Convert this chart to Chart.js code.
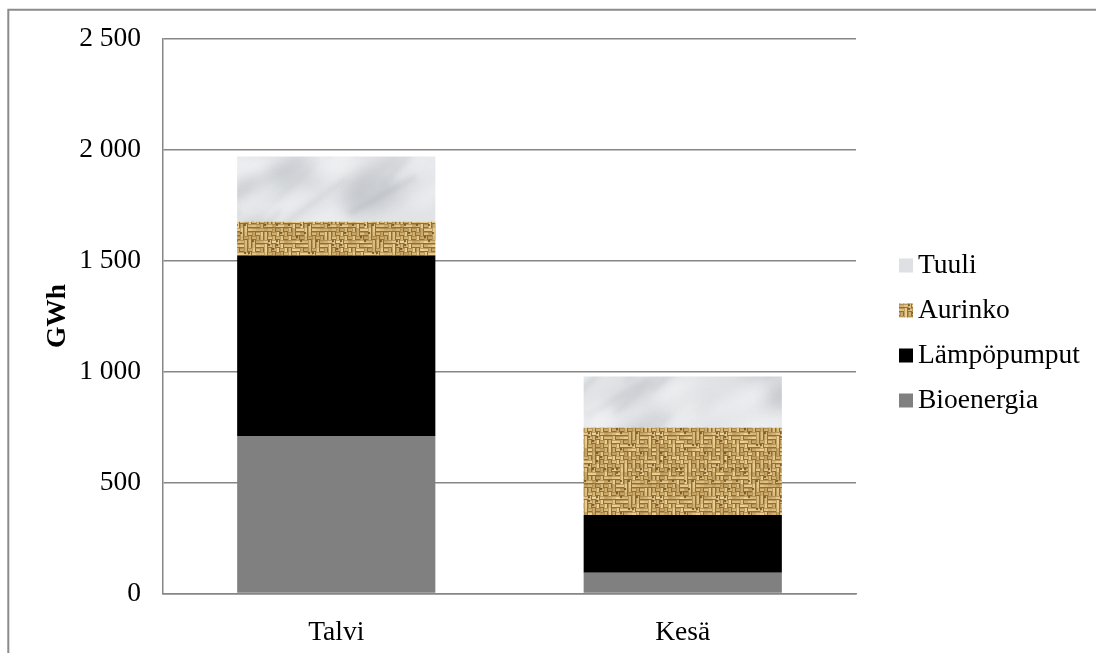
<!DOCTYPE html>
<html lang="fi">
<head>
<meta charset="utf-8">
<title>GWh – Talvi / Kesä</title>
<script src="https://cdn.jsdelivr.net/npm/chart.js@4/dist/chart.umd.min.js"></script>
<style>
  html, body { margin: 0; padding: 0; background: #ffffff; }
  canvas { display: block; }
</style>
</head>
<body>
<canvas id="chart" width="1096" height="653"></canvas>
<script>
const categories = ['Talvi', 'Kesä'];
const bioenergia = [710, 94];
const lampopumput = [812, 260];
const aurinko = [153, 393];
const tuuli = [293, 230];
const yTickLabels = ['0', '500', '1 000', '1 500', '2 000', '2 500'];

const FONT = '"Liberation Serif", "Times New Roman", serif';
const FONT_SIZE = 27.5;
const LINE = '#868686';

// small seeded generator, only used for texture grain
function seeded(seed) {
  let s = seed;
  return () => {
    s = (s * 16807) % 2147483647;
    return (s - 1) / 2147483646;
  };
}

function marblePattern() {
  const w = 260;
  const h = 130;
  const c = document.createElement('canvas');
  c.width = w;
  c.height = h;
  const g = c.getContext('2d');
  g.fillStyle = '#e1e3e6';
  g.fillRect(0, 0, w, h);
  const rnd = seeded(11);
  const wrap = (fn) => {
    for (const dx of [-w, 0, w]) {
      for (const dy of [-h, 0, h]) fn(dx, dy);
    }
  };
  // cloudy blobs
  g.filter = 'blur(7px)';
  for (let i = 0; i < 34; i++) {
    const x = rnd() * w;
    const y = rnd() * h;
    const rx = 15 + rnd() * 35;
    const ry = 5 + rnd() * 12;
    const light = rnd() > 0.4;
    const a = 0.25 + rnd() * 0.4;
    g.fillStyle = light ? `rgba(246,247,249,${a})` : `rgba(170,173,179,${a * 0.7})`;
    wrap((dx, dy) => {
      g.beginPath();
      g.ellipse(x + dx, y + dy, rx, ry, -0.5, 0, Math.PI * 2);
      g.fill();
    });
  }
  // veins
  g.filter = 'blur(2.5px)';
  for (let i = 0; i < 12; i++) {
    const x = rnd() * w;
    const y = rnd() * h;
    const len = 25 + rnd() * 60;
    const ang = -0.5 - rnd() * 0.35;
    const alpha = 0.1 + rnd() * 0.15;
    const lw = 1.5 + rnd() * 3;
    wrap((dx, dy) => {
      g.strokeStyle = `rgba(130,134,140,${alpha})`;
      g.lineWidth = lw;
      g.beginPath();
      g.moveTo(x + dx, y + dy);
      g.lineTo(x + dx + Math.cos(ang) * len, y + dy + Math.sin(ang) * len);
      g.stroke();
    });
  }
  g.filter = 'none';
  return g.createPattern(c, 'repeat');
}

function burlapPattern() {
  const n = 16;
  const cell = 4;
  const size = n * cell;
  const raw = document.createElement('canvas');
  raw.width = size;
  raw.height = size;
  const g = raw.getContext('2d');
  g.fillStyle = '#8e6e3a';
  g.fillRect(0, 0, size, size);
  const rnd = seeded(5);
  for (let i = 0; i < n; i++) {
    for (let j = 0; j < n; j++) {
      const v = rnd();
      g.fillStyle = `rgb(${(196 + v * 44) | 0},${(160 + v * 50) | 0},${(96 + v * 50) | 0})`;
      const horizontal = ((i + j) % 2 === 0) !== (rnd() < 0.25);
      if (horizontal) {
        g.fillRect(i * cell, j * cell + 0.5, cell, 2.5);
      } else {
        g.fillRect(i * cell + 0.5, j * cell, 2.5, cell);
      }
      if (rnd() < 0.12) {
        g.fillStyle = 'rgba(95,70,30,0.7)';
        g.fillRect(i * cell, j * cell, 2, 2);
      }
    }
  }
  // soften a little, wrapping so the tile stays seamless
  const c = document.createElement('canvas');
  c.width = size;
  c.height = size;
  const s = c.getContext('2d');
  s.filter = 'blur(0.6px)';
  for (const dx of [-size, 0, size]) {
    for (const dy of [-size, 0, size]) s.drawImage(raw, dx, dy);
  }
  return s.createPattern(c, 'repeat');
}

const outerBorder = {
  id: 'outerBorder',
  afterDraw(chart) {
    const ctx = chart.ctx;
    ctx.save();
    ctx.strokeStyle = '#8c8c8c';
    ctx.lineWidth = 2;
    ctx.beginPath();
    ctx.moveTo(8.3, chart.height + 5);
    ctx.lineTo(8.3, 9.7);
    ctx.lineTo(chart.width + 5, 9.7);
    ctx.stroke();
    ctx.restore();
  }
};

const sideLegend = {
  id: 'sideLegend',
  afterDraw(chart) {
    const ctx = chart.ctx;
    const items = chart.data.datasets.slice().reverse();
    ctx.save();
    ctx.font = `${FONT_SIZE}px ${FONT}`;
    ctx.textBaseline = 'alphabetic';
    items.forEach((ds, i) => {
      const cy = 265.5 + i * 45;
      ctx.fillStyle = ds.legendColor || ds.backgroundColor;
      ctx.fillRect(899, cy - 7, 14, 14);
      ctx.fillStyle = '#000000';
      ctx.fillText(ds.label, 918, cy + 7.5);
    });
    ctx.restore();
  }
};

new Chart(document.getElementById('chart'), {
  type: 'bar',
  data: {
    labels: categories,
    datasets: [
      { label: 'Bioenergia', data: bioenergia, backgroundColor: '#808080' },
      { label: 'Lämpöpumput', data: lampopumput, backgroundColor: '#000000' },
      { label: 'Aurinko', data: aurinko, backgroundColor: burlapPattern() },
      { label: 'Tuuli', data: tuuli, backgroundColor: marblePattern(), legendColor: '#dfe0e4' }
    ]
  },
  options: {
    responsive: false,
    animation: false,
    devicePixelRatio: 1,
    layout: { padding: { top: 38, right: 240, bottom: 0, left: 0 } },
    datasets: {
      bar: { categoryPercentage: 1, barPercentage: 0.572, borderWidth: 0 }
    },
    plugins: {
      legend: { display: false },
      tooltip: { enabled: false }
    },
    scales: {
      x: {
        stacked: true,
        grid: { display: false },
        border: { display: true, color: LINE, width: 1.5 },
        ticks: { color: '#000000', padding: 15, font: { family: FONT, size: FONT_SIZE } },
        afterFit: (scale) => { scale.height = 59.5; }
      },
      y: {
        stacked: true,
        min: 0,
        max: 2500,
        ticks: {
          stepSize: 500,
          padding: 22,
          color: '#000000',
          font: { family: FONT, size: FONT_SIZE },
          callback: (value, index) => yTickLabels[index]
        },
        grid: { color: LINE, lineWidth: 1.5, drawTicks: false },
        border: { display: true, color: LINE, width: 1.5 },
        title: {
          display: true,
          text: 'GWh',
          color: '#000000',
          font: { family: FONT, size: FONT_SIZE, weight: 'bold' },
          padding: { top: 41, bottom: 0 }
        },
        afterFit: (scale) => { scale.width = 163; }
      }
    }
  },
  plugins: [outerBorder, sideLegend]
});
</script>
</body>
</html>
